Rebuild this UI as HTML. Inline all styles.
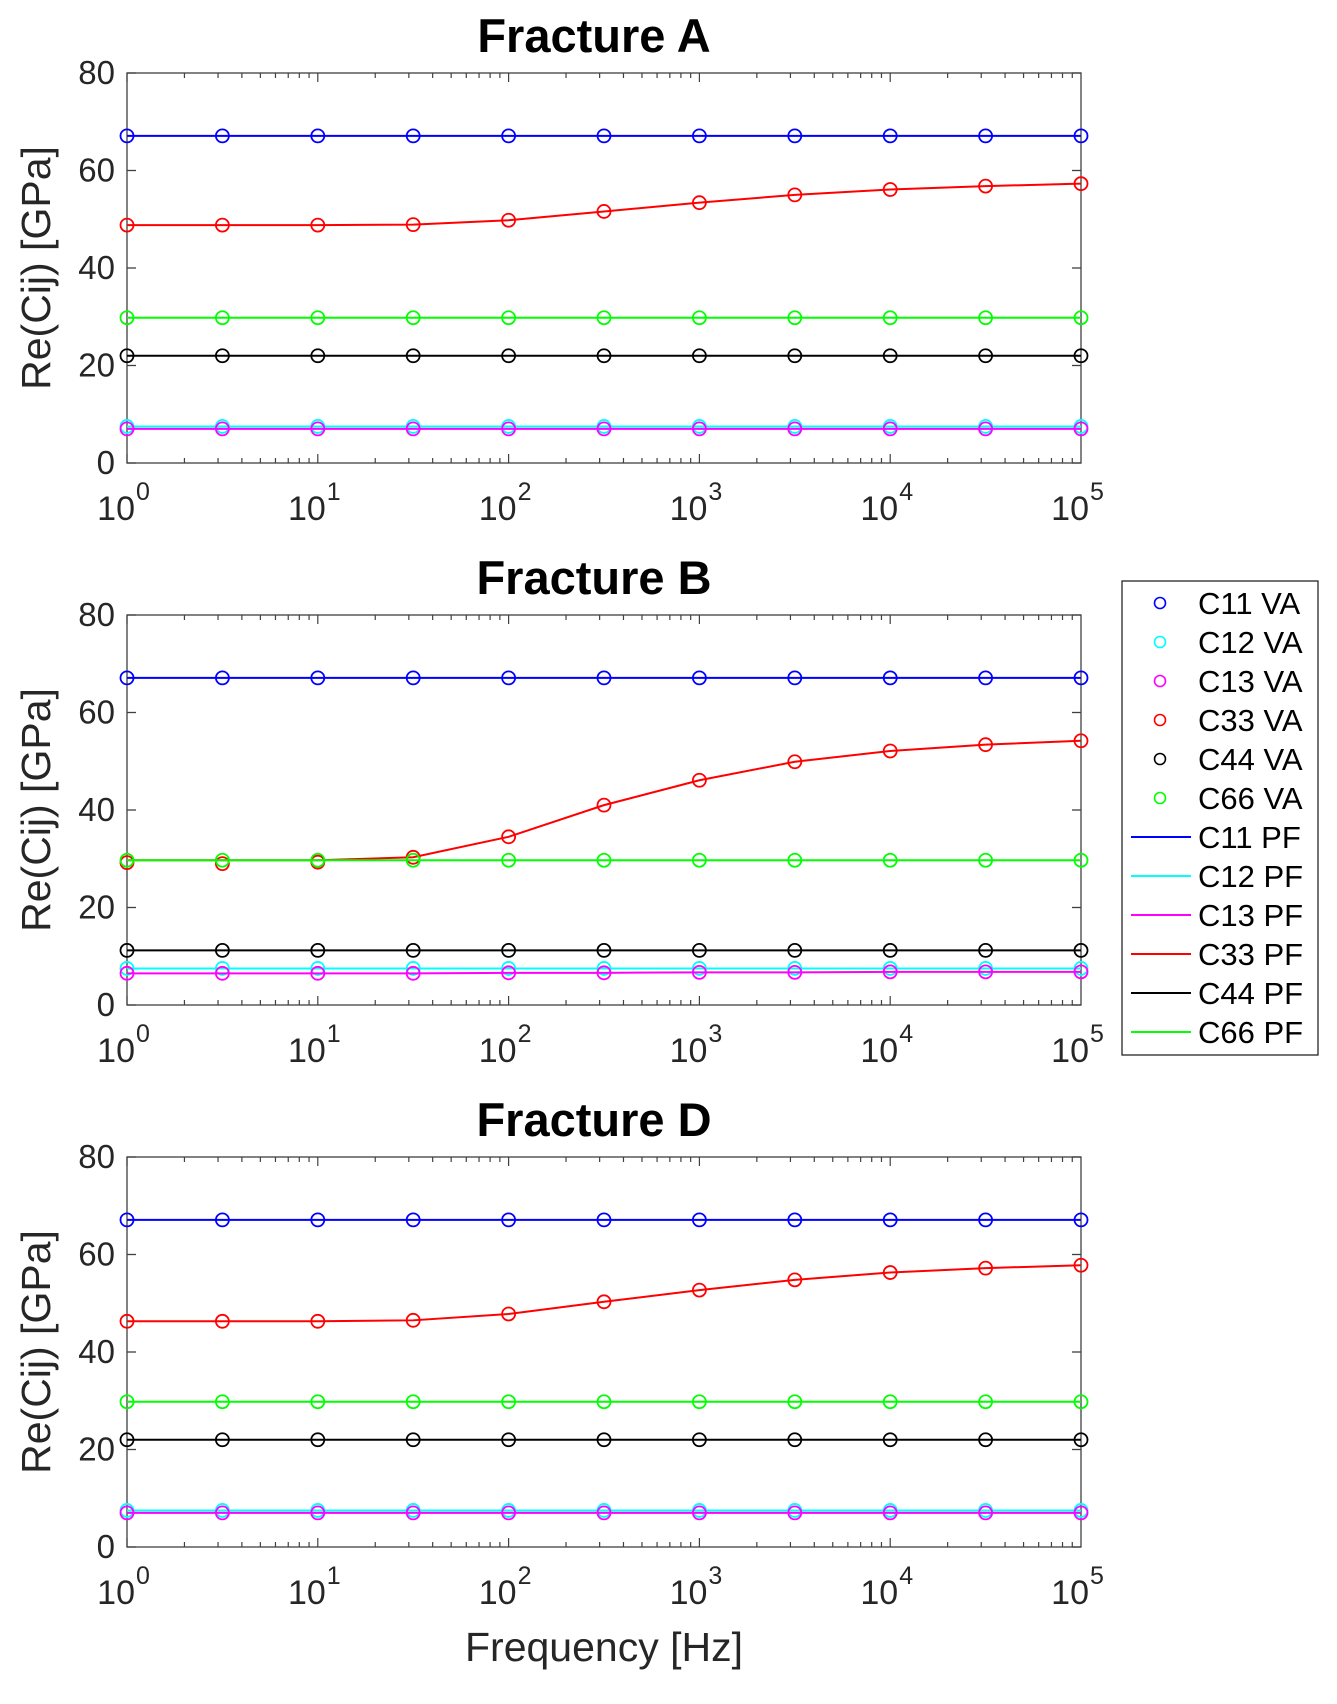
<!DOCTYPE html>
<html><head><meta charset="utf-8"><style>
body{margin:0;background:#fff}
svg text{font-family:"Liberation Sans",Arial,sans-serif}
</style></head><body>
<svg id="fig" width="1337" height="1699" viewBox="0 0 1337 1699" xmlns="http://www.w3.org/2000/svg"></svg>
<script>
const freqs=[1,3.162,10,31.62,100,316.2,1000,3162,10000,31620,100000];
const seriesNames=["C11","C12","C13","C33","C44","C66"];
const colors=["#0000ff","#00ffff","#ff00ff","#ff0000","#000000","#00ff00"];
const titles=["Fracture A","Fracture B","Fracture D"];
const yTicks=[0,20,40,60,80];
const xTickExps=[0,1,2,3,4,5];
// Fracture A
const aC11=[67.1,67.1,67.1,67.1,67.1,67.1,67.1,67.1,67.1,67.1,67.1];
const aC12=[7.5,7.5,7.5,7.5,7.5,7.5,7.5,7.5,7.5,7.5,7.5];
const aC13=[7.0,7.0,7.0,7.0,7.0,7.0,7.0,7.0,7.0,7.0,7.0];
const aC33=[48.8,48.8,48.8,48.9,49.8,51.6,53.4,55.0,56.1,56.8,57.3];
const aC44=[22.0,22.0,22.0,22.0,22.0,22.0,22.0,22.0,22.0,22.0,22.0];
const aC66=[29.8,29.8,29.8,29.8,29.8,29.8,29.8,29.8,29.8,29.8,29.8];
// Fracture B
const bC11=[67.1,67.1,67.1,67.1,67.1,67.1,67.1,67.1,67.1,67.1,67.1];
const bC12=[7.5,7.5,7.5,7.5,7.5,7.5,7.5,7.5,7.5,7.5,7.5];
const bC13=[6.5,6.5,6.5,6.5,6.6,6.6,6.7,6.7,6.8,6.8,6.8];
const bC33va=[29.2,29.0,29.3,30.3,34.5,41.0,46.1,49.9,52.1,53.4,54.2];
const bC33pf=[29.7,29.7,29.7,30.3,34.5,41.0,46.1,49.9,52.1,53.4,54.2];
const bC44=[11.2,11.2,11.2,11.2,11.2,11.2,11.2,11.2,11.2,11.2,11.2];
const bC66=[29.7,29.7,29.7,29.7,29.7,29.7,29.7,29.7,29.7,29.7,29.7];
// Fracture D
const dC11=[67.1,67.1,67.1,67.1,67.1,67.1,67.1,67.1,67.1,67.1,67.1];
const dC12=[7.5,7.5,7.5,7.5,7.5,7.5,7.5,7.5,7.5,7.5,7.5];
const dC13=[7.0,7.0,7.0,7.0,7.0,7.0,7.0,7.0,7.0,7.0,7.0];
const dC33=[46.3,46.3,46.3,46.5,47.8,50.3,52.7,54.8,56.3,57.2,57.8];
const dC44=[22.0,22.0,22.0,22.0,22.0,22.0,22.0,22.0,22.0,22.0,22.0];
const dC66=[29.8,29.8,29.8,29.8,29.8,29.8,29.8,29.8,29.8,29.8,29.8];

const panels=[
 {va:[aC11,aC12,aC13,aC33,aC44,aC66],pf:[aC11,aC12,aC13,aC33,aC44,aC66]},
 {va:[bC11,bC12,bC13,bC33va,bC44,bC66],pf:[bC11,bC12,bC13,bC33pf,bC44,bC66]},
 {va:[dC11,dC12,dC13,dC33,dC44,dC66],pf:[dC11,dC12,dC13,dC33,dC44,dC66]}
];
const NS="http://www.w3.org/2000/svg";
const svg=document.getElementById('fig');
function mk(tag,attrs,parent){const e=document.createElementNS(NS,tag);for(const k in attrs)e.setAttribute(k,attrs[k]);(parent||svg).appendChild(e);return e;}
const L=127,R=1081,H=390,tops=[73,615,1157];
const xs=f=>L+(Math.log10(f)/5)*(R-L);
panels.forEach((p,pi)=>{
 const T=tops[pi],B=T+H;
 const ys=v=>B-v/80*H;
 const g=mk('g',{});
 
 
 const t=mk('text',{x:(L+R)/2-10,y:T-21,'text-anchor':'middle','font-size':47,'font-weight':'bold'},g);
 t.textContent=titles[pi];
 
 
 const box=mk('rect',{x:L,y:T,width:R-L,height:H,fill:'none',stroke:'#404040','stroke-width':1.3},g);
 
 
 yTicks.forEach(v=>{
  const y=ys(v);
  mk('line',{x1:L,x2:L+9,y1:y,y2:y,stroke:'#404040','stroke-width':1.3},g);
  mk('line',{x1:R,x2:R-9,y1:y,y2:y,stroke:'#404040','stroke-width':1.3},g);
  const tl=mk('text',{x:L-12,y:y+11,'text-anchor':'end','font-size':33,fill:'#262626'},g);
  tl.textContent=v;
  
  
 });
 for(let e=0;e<5;e++){for(let m=1;m<10;m++){const x=xs(m*Math.pow(10,e));const len=m==1?9:5;
  mk('line',{x1:x,x2:x,y1:B,y2:B-len,stroke:'#404040','stroke-width':1.2},g);
  mk('line',{x1:x,x2:x,y1:T,y2:T+len,stroke:'#404040','stroke-width':1.2},g);}}
 xTickExps.forEach(e=>{
  const x=xs(Math.pow(10,e));
  const tl=mk('text',{x:x+8,y:B+57,'text-anchor':'end','font-size':34,fill:'#262626'},g);
  tl.textContent='10';
  
  
  const sp=mk('text',{x:x+9,y:B+37,'text-anchor':'start','font-size':25,fill:'#262626'},g);
  sp.textContent=e;
  
  
 });
 const yl=mk('text',{x:0,y:0,'text-anchor':'middle','font-size':41,fill:'#262626',transform:`translate(50,${T+H/2}) rotate(-90)`},g);
 yl.textContent='Re(Cij) [GPa]';
 
 
 seriesNames.forEach((s,si)=>{
  const pts=p.pf[si].map((v,i)=>xs(freqs[i])+','+ys(v)).join(' ');
  const pl=mk('polyline',{points:pts,fill:'none',stroke:colors[si],'stroke-width':2},g);
  
  
  p.va[si].forEach((v,i)=>{
   const c=mk('circle',{cx:xs(freqs[i]),cy:ys(v),r:6.5,fill:'none',stroke:colors[si],'stroke-width':1.8},g);
   
   
  });
 });
});
const xl=mk('text',{x:604,y:1661,'text-anchor':'middle','font-size':41,fill:'#262626'});
xl.textContent='Frequency [Hz]';


const lg=mk('g',{});


mk('rect',{x:1122,y:581,width:196,height:474,fill:'#fff',stroke:'#262626','stroke-width':1.3},lg);
const entries=[];
seriesNames.forEach((s,i)=>entries.push({label:s+' VA',c:colors[i],type:'m'}));
seriesNames.forEach((s,i)=>entries.push({label:s+' PF',c:colors[i],type:'l'}));
entries.forEach((en,i)=>{
 const y=603+i*39;
 const eg=mk('g',{},lg);
 
 
 if(en.type==='m') mk('circle',{cx:1160,cy:y,r:5.5,fill:'none',stroke:en.c,'stroke-width':1.6},eg);
 else mk('line',{x1:1131,x2:1191,y1:y,y2:y,stroke:en.c,'stroke-width':2},eg);
 const t=mk('text',{x:1198,y:y+11,'font-size':31,fill:'#000'},eg);
 t.textContent=en.label;
});
</script>
</body></html>
